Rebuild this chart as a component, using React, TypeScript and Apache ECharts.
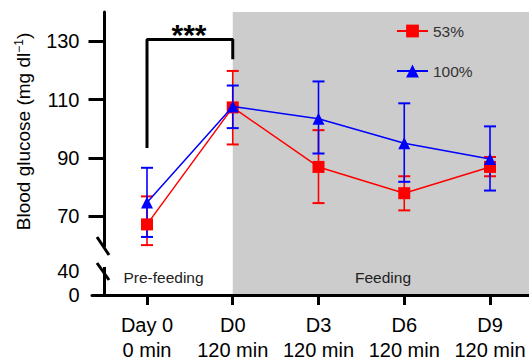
import React, { useEffect, useRef } from "react";
import * as echarts from "echarts";

const categories = ["Day 0\n0 min", "D0\n120 min", "D3\n120 min", "D6\n120 min", "D9\n120 min"];
const mean53 = [67.2, 107.3, 86.9, 77.9, 86.9];
const low53 = [60.1, 94.6, 74.5, 72.0, 83.7];
const high53 = [76.8, 119.8, 99.5, 83.7, 90.3];
const mean100 = [74.7, 107.6, 103.4, 95.0, 89.6];
const low100 = [62.9, 100.2, 91.5, 81.8, 78.8];
const high100 = [86.6, 114.8, 116.2, 108.7, 100.8];
const yTicks = [70, 90, 110, 130];
// below the axis break: axis positions of the labels "0" and "40"
const breakLabelPos = [43, 51.1];
const breakLabelText = ["0", "40"];
const bracketPts = [[0, 93.4], [0, 130.6], [1, 130.6], [1, 123.8]];
const feedingStart = 1;

const FONT = "Liberation Sans, Arial, Helvetica, sans-serif";

function errSeries(name: string, color: string, low: number[], high: number[]) {
  return {
    name,
    type: "custom",
    data: low.map((l, i) => [i, l, high[i]]),
    encode: { x: 0, y: [1, 2] },
    z: 3,
    renderItem: (params: any, api: any) => {
      const x = api.value(0);
      const pLo = api.coord([x, api.value(1)]);
      const pHi = api.coord([x, api.value(2)]);
      const hw = 6;
      const st = { stroke: color, lineWidth: 1.6 };
      return {
        type: "group",
        children: [
          { type: "line", shape: { x1: pLo[0], y1: pLo[1], x2: pHi[0], y2: pHi[1] }, style: st },
          { type: "line", shape: { x1: pLo[0] - hw, y1: pLo[1], x2: pLo[0] + hw, y2: pLo[1] }, style: { ...st, lineWidth: 2 } },
          { type: "line", shape: { x1: pHi[0] - hw, y1: pHi[1], x2: pHi[0] + hw, y2: pHi[1] }, style: { ...st, lineWidth: 2 } },
        ],
      };
    },
  };
}

export default function App() {
  const ref = useRef<HTMLDivElement>(null);
  useEffect(() => {
    const chart = echarts.init(ref.current!, null, { renderer: "svg" });
    const xMin = (92 - 147) / 85.75;
    const xMax = (529 - 147) / 85.75;
    chart.setOption({
      animation: false,
      textStyle: { fontFamily: FONT },
      grid: { left: 92, right: 0, top: 12, bottom: 64.5, containLabel: false },
      legend: {
        data: ["53%", "100%"],
        orient: "vertical",
        left: 391,
        top: 18,
        itemWidth: 31,
        itemHeight: 16,
        itemGap: 24,
        textStyle: { fontSize: 15.5, color: "#333", fontFamily: FONT, lineHeight: 16 },
      },
      xAxis: {
        type: "value",
        min: xMin,
        max: xMax,
        z: 10,
        splitLine: { show: false },
        axisLine: { onZero: false, lineStyle: { color: "#000", width: 3 } },
        axisTick: { customValues: categories.map((_, i) => i), length: 10, lineStyle: { color: "#000", width: 3 } },
        axisLabel: {
          customValues: categories.map((_, i) => i),
          formatter: (v: number) => categories[Math.round(v)] ?? "",
          fontSize: 20,
          lineHeight: 25,
          color: "#000",
          margin: 17,
          fontFamily: FONT,
        },
      },
      yAxis: {
        type: "value",
        min: 43,
        max: 140,
        offset: -12.5,
        z: 10,
        splitLine: { show: false },
        axisLine: { show: true, onZero: false, lineStyle: { color: "#000", width: 3 } },
        axisTick: { customValues: yTicks, length: 16, lineStyle: { color: "#000", width: 3 } },
        axisLabel: {
          customValues: [...breakLabelPos, ...yTicks],
          formatter: (v: number) => {
            const k = breakLabelPos.findIndex((p) => Math.abs(p - v) < 0.01);
            return k >= 0 ? breakLabelText[k] : String(v);
          },
          fontSize: 20,
          color: "#000",
          margin: 25,
          fontFamily: FONT,
        },
      },
      graphic: [
        { type: "rect", shape: { x: 99, y: 247, width: 12, height: 20 }, style: { fill: "#fff" }, z: 100 },
        { type: "line", shape: { x1: 97, y1: 237, x2: 109, y2: 255 }, style: { stroke: "#000", lineWidth: 3 }, z: 101 },
        { type: "line", shape: { x1: 97, y1: 263, x2: 109, y2: 280 }, style: { stroke: "#000", lineWidth: 3 }, z: 101 },
        {
          type: "text",
          x: 23,
          y: 131.5,
          rotation: Math.PI / 2,
          z: 100,
          style: {
            text: "Blood glucose (mg dl{sup|−1})",
            fontSize: 19,
            fontFamily: FONT,
            fill: "#000",
            textAlign: "center",
            align: "center",
            textVerticalAlign: "middle",
            verticalAlign: "middle",
            rich: { sup: { fontSize: 12, fontFamily: FONT, fill: "#000", padding: [0, 0, 8, 0] } },
          },
        },
        {
          type: "text",
          x: 189,
          y: 34,
          z: 100,
          style: { text: "***", fontSize: 30, fontWeight: "bold", fontFamily: FONT, fill: "#000", textAlign: "center", align: "center", textVerticalAlign: "middle", verticalAlign: "middle" },
        },
        {
          type: "text",
          x: 163.5,
          y: 277.5,
          z: 100,
          style: { text: "Pre-feeding", fontSize: 15.5, fontFamily: FONT, fill: "#222", textAlign: "center", align: "center", textVerticalAlign: "middle", verticalAlign: "middle" },
        },
        {
          type: "text",
          x: 383,
          y: 277,
          z: 100,
          style: { text: "Feeding", fontSize: 15.5, fontFamily: FONT, fill: "#222", textAlign: "center", align: "center", textVerticalAlign: "middle", verticalAlign: "middle" },
        },
      ],
      series: [
        {
          name: "shade",
          type: "line",
          data: [],
          z: 1,
          markArea: {
            silent: true,
            itemStyle: { color: "#cccccc" },
            data: [[{ xAxis: feedingStart }, { xAxis: xMax }]],
          },
        },
        {
          name: "bracket",
          type: "line",
          data: bracketPts,
          symbol: "none",
          z: 4,
          lineStyle: { color: "#000", width: 3 },
        },
        errSeries("err53", "#ff0000", low53, high53),
        errSeries("err100", "#0000ff", low100, high100),
        {
          name: "53%",
          type: "line",
          data: mean53.map((v, i) => [i, v]),
          symbol: "rect",
          symbolSize: 12,
          z: 5,
          itemStyle: { color: "#ff0000" },
          lineStyle: { color: "#ff0000", width: 1.5 },
        },
        {
          name: "100%",
          type: "line",
          data: mean100.map((v, i) => [i, v]),
          symbol: "triangle",
          symbolSize: 12,
          z: 6,
          itemStyle: { color: "#0000ff" },
          lineStyle: { color: "#0000ff", width: 1.5 },
        },
      ],
    });
    return () => chart.dispose();
  }, []);
  return <div ref={ref} style={{ position: "absolute", left: 0, top: 0, width: 529, height: 362 }} />;
}
